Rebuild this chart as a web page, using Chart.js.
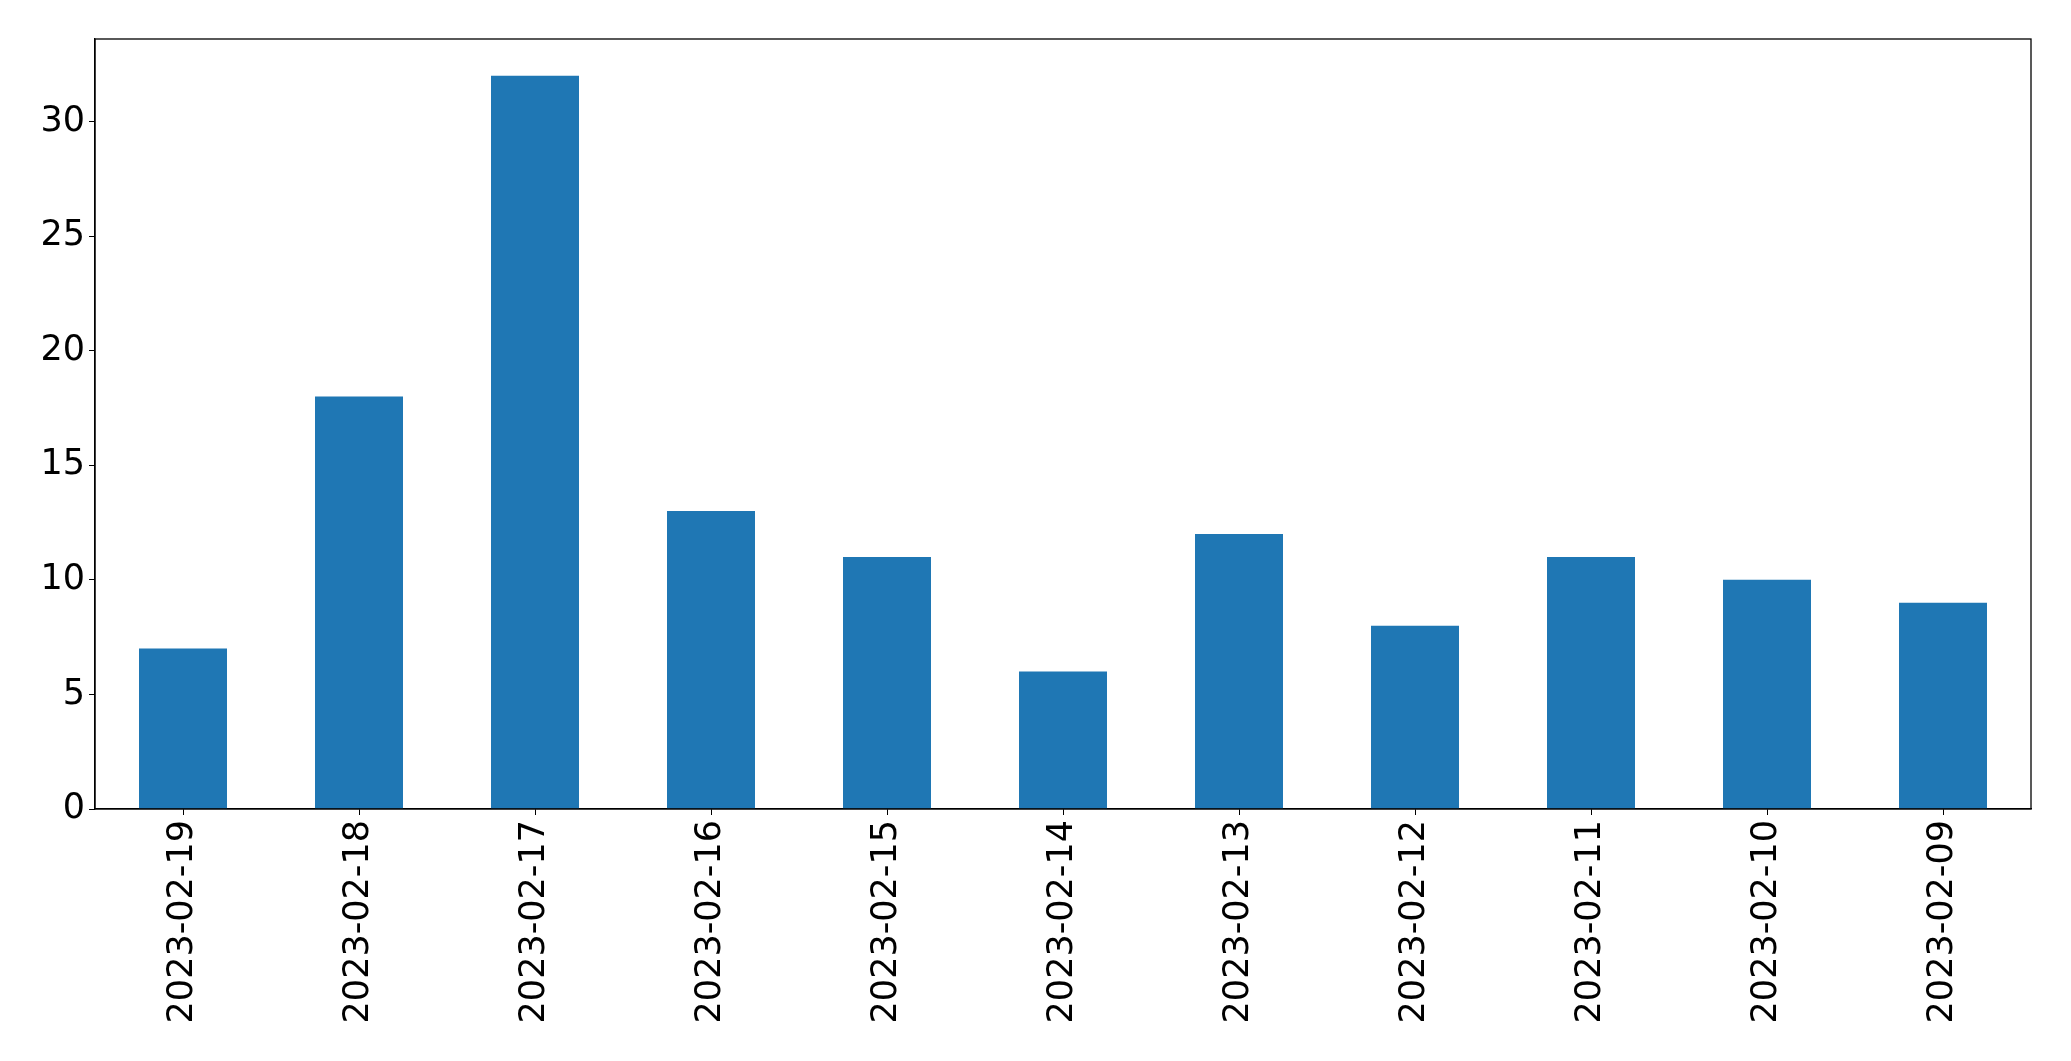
<!DOCTYPE html>
<html>
<head>
<meta charset="utf-8">
<script src="https://cdn.jsdelivr.net/npm/chart.js@4"></script>
<style>
html,body{margin:0;padding:0;background:#fff;}
#wrap{width:2071px;height:1061px;position:relative;}
</style>
</head>
<body>
<div id="wrap"><canvas id="c"></canvas></div>
<script>
const categories = ["2023-02-19","2023-02-18","2023-02-17","2023-02-16","2023-02-15","2023-02-14","2023-02-13","2023-02-12","2023-02-11","2023-02-10","2023-02-09"];
const counts = [7, 18, 32, 13, 11, 6, 12, 8, 11, 10, 9];
const yTicks = [0, 5, 10, 15, 20, 25, 30];

const frame = {
  id: 'frame',
  afterDatasetsDraw(chart) {
    const a = chart.chartArea, ctx = chart.ctx;
    ctx.save();
    ctx.strokeStyle = '#000';
    ctx.lineWidth = 1.3;
    ctx.strokeRect(a.left, a.top, a.right - a.left, a.bottom - a.top);
    ctx.restore();
  }
};

new Chart(document.getElementById('c'), {
  type: 'bar',
  data: {
    labels: categories,
    datasets: [{
      data: counts,
      backgroundColor: '#1f77b4',
      borderWidth: 0,
      barPercentage: 0.5,
      categoryPercentage: 1.0
    }]
  },
  options: {
    responsive: true,
    maintainAspectRatio: false,
    animation: false,
    devicePixelRatio: 1,
    layout: { padding: { left: 0, right: 40, top: 39, bottom: 0 } },
    plugins: { legend: { display: false }, tooltip: { enabled: false } },
    scales: {
      x: {
        offset: true,
        grid: { display: true, drawOnChartArea: false, drawTicks: true, tickLength: 6, tickColor: '#000', offset: false },
        border: { display: true, color: '#000', width: 1.3 },
        ticks: {
          color: '#000',
          font: { family: 'DejaVu Sans', size: 35 },
          maxRotation: 90, minRotation: 90,
          padding: 5,
          autoSkip: false
        },
        afterFit(s) { s.height = 252; }
      },
      y: {
        min: 0, max: 33.6,
        grid: { display: true, drawOnChartArea: false, drawTicks: true, tickLength: 6, tickColor: '#000' },
        border: { display: true, color: '#000', width: 1.3 },
        ticks: {
          color: '#000',
          font: { family: 'DejaVu Sans', size: 35 },
          stepSize: 5,
          includeBounds: false,
          padding: 4,
          callback: (v) => yTicks.includes(v) ? String(v) : ''
        },
        afterFit(s) { s.width = 95; }
      }
    }
  },
  plugins: [frame]
});
</script>
</body>
</html>
